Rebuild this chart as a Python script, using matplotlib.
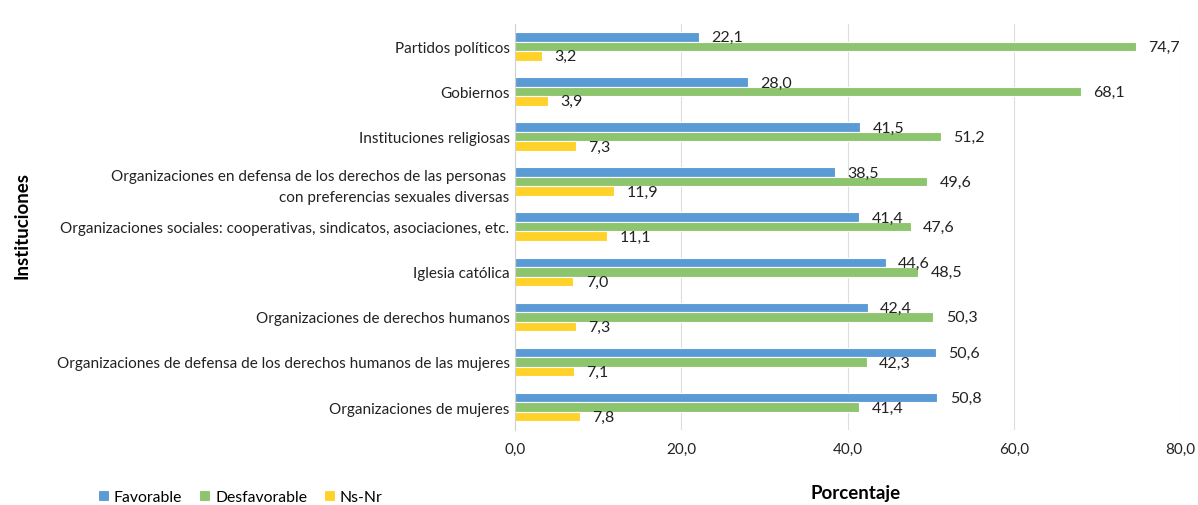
import numpy as np
import matplotlib.pyplot as plt
import matplotlib as mpl

mpl.rcParams['font.family'] = ['Lato', 'DejaVu Sans']
mpl.rcParams['font.size'] = 11

categories = ['Partidos políticos', 'Gobiernos', 'Instituciones religiosas',
              'Organizaciones en defensa de los derechos de las personas \ncon preferencias sexuales diversas',
              'Organizaciones sociales: cooperativas, sindicatos, asociaciones, etc.',
              'Iglesia católica', 'Organizaciones de derechos humanos',
              'Organizaciones de defensa de los derechos humanos de las mujeres',
              'Organizaciones de mujeres']
favorable = [22.1, 28.0, 41.5, 38.5, 41.4, 44.6, 42.4, 50.6, 50.8]
desfavorable = [74.7, 68.1, 51.2, 49.6, 47.6, 48.5, 50.3, 42.3, 41.4]
nsnr = [3.2, 3.9, 7.3, 11.9, 11.1, 7.0, 7.3, 7.1, 7.8]
series = ['Favorable', 'Desfavorable', 'Ns-Nr']
colors = ['#5B9BD5', '#8DC46E', '#FFD22A']

fig = plt.figure(figsize=(11.98, 5.06), dpi=100)
ax = fig.add_axes([0.43, 0.149, 0.555, 0.802])

ind = np.arange(len(categories))
h = 0.21
for i, (vals, lab, c) in enumerate(zip([favorable, desfavorable, nsnr], series, colors)):
    pos = ind + (i - 1) * h
    ax.barh(pos, vals, h, color=c, edgecolor='white', linewidth=0.8, label=lab)
    for p, v in zip(pos, vals):
        ax.text(v + 1.5, p + 0.01, f'{v:.1f}'.replace('.', ','), va='center', ha='left',
                fontsize=11.5, color='#222222')

ax.set_ylim(len(categories) - 0.5, -0.5)
ax.set_xlim(0, 80)
ax.set_xticks(np.arange(0, 81, 20))
ax.set_xticklabels([f'{t:.1f}'.replace('.', ',') for t in np.arange(0, 81, 20)])
ax.set_yticks(ind)
ax.set_yticklabels(categories, linespacing=1.6)
ax.tick_params(length=0, pad=4, labelsize=11, colors='#222222')
ax.tick_params(axis='x', pad=9)
ax.grid(axis='x', color='#DDDDDD', linewidth=0.8)
ax.set_axisbelow(True)
for s in ['top', 'right', 'bottom']:
    ax.spines[s].set_visible(False)
ax.spines['left'].set_color('#D0D0D0')

fig.text(0.018, 0.555, 'Instituciones', rotation=90, ha='center', va='center',
         fontsize=13.5, fontweight='bold')
fig.text(0.714, 0.025, 'Porcentaje', ha='center', va='center', fontsize=13.5, fontweight='bold')

fig.legend(loc='lower left', bbox_to_anchor=(0.07, -0.025), ncol=3, frameon=False,
           handlelength=0.7, handleheight=0.7, handletextpad=0.3, columnspacing=1.1, fontsize=11.3)

fig.savefig('out.png', dpi=100)
